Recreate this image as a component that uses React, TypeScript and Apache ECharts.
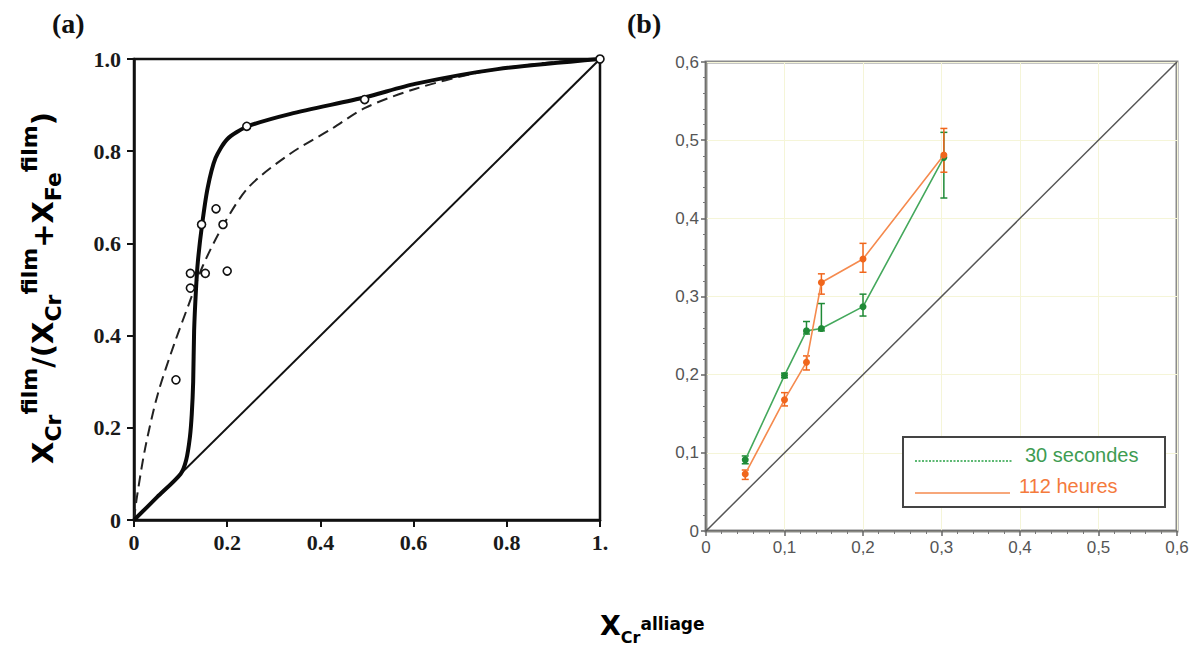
import React, { useEffect, useRef } from "react";
import * as echarts from "echarts";

// ---------- Panel (a) data ----------
const diagA: [number, number][] = [[0, 0], [1, 1]];
const solidCurve: [number, number][] = [
  [0, 0], [0.05, 0.05], [0.1, 0.1], [0.112, 0.13], [0.12, 0.18], [0.124, 0.23],
  [0.127, 0.3], [0.129, 0.41], [0.133, 0.5], [0.137, 0.56], [0.146, 0.64],
  [0.158, 0.72], [0.175, 0.785], [0.2, 0.826], [0.242, 0.853], [0.336, 0.881],
  [0.496, 0.917], [0.603, 0.946], [0.78, 0.978], [1, 1],
];
const dashedCurve: [number, number][] = [
  [0, 0], [0.006, 0.048], [0.024, 0.156], [0.051, 0.273], [0.086, 0.381],
  [0.122, 0.48], [0.148, 0.552], [0.193, 0.642], [0.247, 0.723], [0.336, 0.795],
  [0.425, 0.849], [0.496, 0.894], [0.603, 0.935], [0.736, 0.97], [0.87, 0.99], [1, 1],
];
const circlesA: [number, number][] = [
  [0.09, 0.304], [0.121, 0.535], [0.121, 0.503], [0.153, 0.535], [0.145, 0.641],
  [0.176, 0.675], [0.191, 0.641], [0.2, 0.54], [0.242, 0.854], [0.495, 0.912], [1, 1],
];
const ticksA = [0, 0.2, 0.4, 0.6, 0.8, 1];
const xLabelsA = ["0", "0.2", "0.4", "0.6", "0.8", "1."];
const yLabelsA = ["0", "0.2", "0.4", "0.6", "0.8", "1.0"];

// ---------- Panel (b) data ----------
const diagB: [number, number][] = [[0, 0], [0.6, 0.6]];
const secondsX = [0.05, 0.1, 0.128, 0.147, 0.2, 0.303];
const secondsY = [0.091, 0.199, 0.256, 0.259, 0.287, 0.478];
const secondsLow = [0.086, 0.196, 0.252, 0.256, 0.275, 0.426];
const secondsHigh = [0.096, 0.202, 0.268, 0.291, 0.303, 0.51];
const hoursX = [0.05, 0.1, 0.128, 0.147, 0.2, 0.303];
const hoursY = [0.073, 0.168, 0.216, 0.318, 0.348, 0.481];
const hoursLow = [0.066, 0.16, 0.206, 0.303, 0.331, 0.459];
const hoursHigh = [0.078, 0.177, 0.224, 0.329, 0.368, 0.515];
const legendNames = ["30 secondes", "112 heures"];

const GREEN_LINE = "#44a85c";
const GREEN_DOT = "#1f8a36";
const ORANGE_LINE = "#f58a4e";
const ORANGE_DOT = "#f0661c";

const serif = "'Liberation Serif', 'DejaVu Serif', serif";
const sans = "'Liberation Sans', Arial, sans-serif";
const dejavu = "'DejaVu Sans', sans-serif";

function labelA(list: string[]) {
  return (v: number) => {
    const i = ticksA.findIndex((t) => Math.abs(t - v) < 1e-6);
    return i >= 0 ? list[i] : "";
  };
}

function errorBars(xs: number[], lo: number[], hi: number[], color: string) {
  return {
    type: "custom",
    xAxisIndex: 1,
    yAxisIndex: 1,
    silent: true,
    z: 3,
    data: xs.map((x, i) => [x, lo[i], hi[i]]),
    encode: { x: 0, y: [1, 2] },
    renderItem: (_p: any, api: any) => {
      const x = api.value(0);
      const a = api.coord([x, api.value(1)]);
      const b = api.coord([x, api.value(2)]);
      const w = 3.5;
      const style = { stroke: color, lineWidth: 1.5 };
      return {
        type: "group",
        children: [
          { type: "line", shape: { x1: a[0], y1: a[1], x2: b[0], y2: b[1] }, style },
          { type: "line", shape: { x1: a[0] - w, y1: a[1], x2: a[0] + w, y2: a[1] }, style },
          { type: "line", shape: { x1: b[0] - w, y1: b[1], x2: b[0] + w, y2: b[1] }, style },
        ],
      };
    },
  };
}

export default function App() {
  const ref = useRef<HTMLDivElement>(null);
  useEffect(() => {
    if (!ref.current) return;
    const chart = echarts.init(ref.current, undefined, { renderer: "svg" });
    const axisBlack = { color: "#111", width: 2.5 };
    const labA = { fontFamily: serif, fontWeight: "bold", fontSize: 22, color: "#1a1a1a" };
    const labB = { fontFamily: sans, fontSize: 17, color: "#555" };
    const fmtB = (v: number) => (v === 0 ? "0" : v.toFixed(1).replace(".", ","));

    const main = { fontFamily: dejavu, fontWeight: "bold", fontSize: 29, lineHeight: 29, padding: [11.5, 0, 0, 0], verticalAlign: "top", color: "#111" };
    const sub = { fontFamily: dejavu, fontWeight: "bold", fontSize: 22, lineHeight: 22, padding: [25, 0, 0, 0], verticalAlign: "top", color: "#111" };
    const sup = { fontFamily: dejavu, fontWeight: "bold", fontSize: 22, lineHeight: 22, padding: [1, 0, 0, 0], verticalAlign: "top", color: "#111" };

    const bMain = { fontFamily: dejavu, fontWeight: "bold", fontSize: 27, lineHeight: 27, padding: [6.5, 0, 0, 0], verticalAlign: "top", color: "#111" };
    const bSub = { fontFamily: dejavu, fontWeight: "bold", fontSize: 16, lineHeight: 16, padding: [24.5, 0, 0, 0], verticalAlign: "top", color: "#111" };
    const bSup = { fontFamily: dejavu, fontWeight: "bold", fontSize: 17, lineHeight: 17, padding: [10.5, 0, 0, 0], verticalAlign: "top", color: "#111" };

    chart.setOption({
      animation: false,
      backgroundColor: "#fff",
      grid: [
        { left: 134, top: 59, width: 466, height: 461, show: true, borderColor: "#111", borderWidth: 2.5, backgroundColor: "transparent" },
        { left: 706, top: 62, width: 471, height: 469, show: true, borderColor: "#8c8c8c", borderWidth: 3, backgroundColor: "transparent" },
      ],
      xAxis: [
        {
          gridIndex: 0, type: "value", min: 0, max: 1, interval: 0.2,
          axisLine: { show: true, lineStyle: axisBlack },
          axisTick: { show: true, length: 7, lineStyle: { color: "#111", width: 2 } },
          axisLabel: { ...labA, margin: 11, formatter: labelA(xLabelsA) },
          splitLine: { show: false },
        },
        {
          gridIndex: 1, type: "value", min: 0, max: 0.6, interval: 0.1,
          axisLine: { show: true, lineStyle: { color: "#666", width: 1.5 } },
          axisTick: { show: true, length: 5, lineStyle: { color: "#666", width: 1.5 } },
          minorTick: { show: true, splitNumber: 5, length: 3, lineStyle: { color: "#777", width: 1 } },
          axisLabel: { ...labB, margin: 8, formatter: fmtB },
          splitLine: { show: true, lineStyle: { color: "#f5f5d8", width: 1 } },
        },
      ],
      yAxis: [
        {
          gridIndex: 0, type: "value", min: 0, max: 1, interval: 0.2,
          axisLine: { show: true, lineStyle: axisBlack },
          axisTick: { show: true, length: 7, lineStyle: { color: "#111", width: 2 } },
          axisLabel: { ...labA, margin: 13, formatter: labelA(yLabelsA) },
          splitLine: { show: false },
        },
        {
          gridIndex: 1, type: "value", min: 0, max: 0.6, interval: 0.1,
          axisLine: { show: true, lineStyle: { color: "#666", width: 1.5 } },
          axisTick: { show: true, length: 5, lineStyle: { color: "#666", width: 1.5 } },
          minorTick: { show: true, splitNumber: 5, length: 3, lineStyle: { color: "#777", width: 1 } },
          axisLabel: { ...labB, margin: 7, formatter: fmtB },
          splitLine: { show: true, lineStyle: { color: "#f5f5d8", width: 1 } },
        },
      ],
      series: [
        { type: "line", xAxisIndex: 0, yAxisIndex: 0, data: diagA, symbol: "none", lineStyle: { color: "#111", width: 2 } },
        { type: "line", xAxisIndex: 0, yAxisIndex: 0, data: dashedCurve, symbol: "none", smooth: 0.3, lineStyle: { color: "#222", width: 2, type: [11, 6] } },
        { type: "line", xAxisIndex: 0, yAxisIndex: 0, data: solidCurve, symbol: "none", smooth: 0.25, lineStyle: { color: "#0a0a0a", width: 4 } },
        {
          type: "scatter", xAxisIndex: 0, yAxisIndex: 0, data: circlesA, symbol: "circle", symbolSize: 8, z: 5,
          itemStyle: { color: "#fff", borderColor: "#111", borderWidth: 1.6, opacity: 1 },
        },
        { type: "line", xAxisIndex: 1, yAxisIndex: 1, data: diagB, symbol: "none", lineStyle: { color: "#555", width: 1.5 } },
        errorBars(secondsX, secondsLow, secondsHigh, GREEN_DOT),
        {
          type: "line", name: legendNames[0], xAxisIndex: 1, yAxisIndex: 1, z: 4,
          data: secondsX.map((x, i) => [x, secondsY[i]]),
          symbol: "circle", symbolSize: 7,
          lineStyle: { color: GREEN_LINE, width: 1.6 },
          itemStyle: { color: GREEN_DOT, borderWidth: 0 },
        },
        errorBars(hoursX, hoursLow, hoursHigh, ORANGE_DOT),
        {
          type: "line", name: legendNames[1], xAxisIndex: 1, yAxisIndex: 1, z: 5,
          data: hoursX.map((x, i) => [x, hoursY[i]]),
          symbol: "circle", symbolSize: 7,
          lineStyle: { color: ORANGE_LINE, width: 1.6 },
          itemStyle: { color: ORANGE_DOT, borderWidth: 0 },
        },
      ],
      graphic: [
        { type: "text", x: 52, y: 23, style: { text: "(a)", font: `bold 28px ${serif}`, fill: "#111", verticalAlign: "middle" } },
        { type: "text", x: 627, y: 23, style: { text: "(b)", font: `bold 28px ${serif}`, fill: "#111", verticalAlign: "middle" } },
        {
          type: "text", x: 31.5, y: 288, rotation: Math.PI / 2,
          style: {
            text: "{m|X}{s|Cr}{p|film}{m|/(X}{s|Cr}{p|film}{m|+X}{s|Fe}{p|film}{m|)}",
            align: "center", verticalAlign: "middle",
            rich: { m: main, s: sub, p: sup },
          },
        },
        {
          type: "text", x: 600, y: 605,
          style: {
            text: "{m|X}{s|Cr}{p|alliage}",
            align: "left", verticalAlign: "top",
            rich: { m: bMain, s: bSub, p: bSup },
          },
        },
        // legend box (b)
        { type: "rect", shape: { x: 903, y: 437, width: 262, height: 70 }, style: { fill: "#fff", stroke: "#444", lineWidth: 2 }, z: 10 },
        { type: "line", shape: { x1: 915, y1: 461, x2: 1012, y2: 461 }, style: { stroke: "#5cb872", lineWidth: 2, lineDash: [2, 1.5] }, z: 11 },
        { type: "text", x: 1025, y: 455, style: { text: legendNames[0], font: `20px ${sans}`, fill: "#3e9c52", verticalAlign: "middle" }, z: 11 },
        { type: "line", shape: { x1: 915, y1: 493, x2: 1010, y2: 493 }, style: { stroke: ORANGE_LINE, lineWidth: 1.5 }, z: 11 },
        { type: "text", x: 1019, y: 486, style: { text: legendNames[1], font: `20px ${sans}`, fill: "#f47a3c", verticalAlign: "middle" }, z: 11 },
      ],
    });
    return () => chart.dispose();
  }, []);
  return (
    <div
      ref={ref}
      style={{ position: "fixed", left: 0, top: 0, width: 1194, height: 647, background: "#fff" }}
    />
  );
}
